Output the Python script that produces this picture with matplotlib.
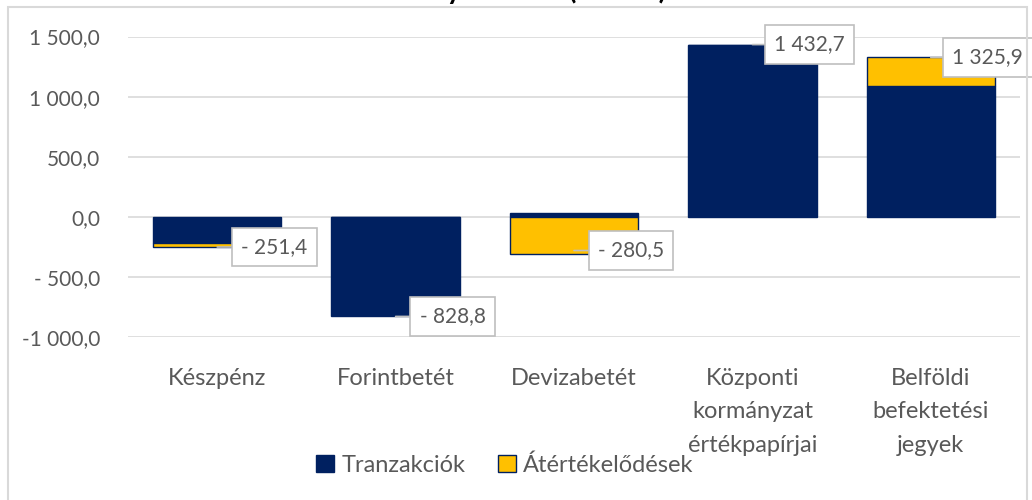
import matplotlib
matplotlib.use('Agg')
import matplotlib.pyplot as plt
from matplotlib.patches import Rectangle

# data (mrd Ft)
categories = ['Készpénz', 'Forintbetét', 'Devizabetét',
              'Központi\nkormányzat\nértékpapírjai', 'Belföldi\nbefektetési\njegyek']
tranzakciok = [-222.0, -828.8, 30.0, 1432.7, 1090.0]
atertekelodesek = [-29.4, 0.0, -310.5, 0.0, 235.9]
totals = [-251.4, -828.8, -280.5, 1432.7, 1325.9]
yticks = [-1000, -500, 0, 500, 1000, 1500]

navy = '#002060'
yellow = '#FFC000'
gray_txt = '#595959'
grid_col = '#d9d9d9'

plt.rcParams['font.family'] = ['Lato', 'DejaVu Sans']


def hu(v):
    # hungarian style: space thousands, comma decimals, "- " for small negatives
    s = '{:,.1f}'.format(abs(v)).replace(',', ' ').replace('.', ',')
    if v < 0:
        return ('- ' if abs(v) < 1000 else '-') + s
    return s


fig = plt.figure(figsize=(10.32, 5.0), dpi=100)
ax = fig.add_axes([128 / 1032, 1 - 337 / 500, 892 / 1032, 300.5 / 500])

x = list(range(len(categories)))
# excel style stacking: positives go up from 0, negatives go down from 0
pos = [0.0] * len(x)
neg = [0.0] * len(x)
for vals, col, ec, lab in [(tranzakciok, navy, navy, 'Tranzakciók'),
                           (atertekelodesek, yellow, navy, 'Átértékelődések')]:
    bottoms = []
    for i, v in enumerate(vals):
        if v >= 0:
            bottoms.append(pos[i])
            pos[i] += v
        else:
            bottoms.append(neg[i])
            neg[i] += v
    ax.bar(x, vals, bottom=bottoms, width=0.72, color=col, edgecolor=ec,
           linewidth=1.0, label=lab, zorder=3)

ax.set_xlim(-0.5, 4.5)
ax.set_ylim(-1000, 1500)
ax.set_yticks(yticks)
ax.set_yticklabels([hu(t) for t in yticks])
ax.yaxis.grid(True, color=grid_col, linewidth=1.2, zorder=0)
ax.tick_params(axis='y', length=0, pad=20, labelsize=15, labelcolor=gray_txt)
ax.set_xticks(x)
ax.set_xticklabels(categories, fontsize=17, color=gray_txt, linespacing=1.75)
ax.tick_params(axis='x', length=0, pad=22)
for sp in ax.spines.values():
    sp.set_visible(False)

# callout labels with the totals
for i, t in enumerate(totals):
    ax.annotate(hu(t), xy=(i, t), xytext=(57, 0), textcoords='offset pixels',
                ha='center', va='center', fontsize=15, color=gray_txt, zorder=5,
                bbox=dict(boxstyle='square,pad=0.45', fc='white', ec='#bfbfbf', lw=1.2),
                arrowprops=dict(arrowstyle='-', color='#bfbfbf', lw=1.2,
                                shrinkA=0, shrinkB=0))

fig.legend(loc='center', bbox_to_anchor=(505 / 1032, 1 - 465 / 500), ncol=2,
           frameon=False, fontsize=17, labelcolor=gray_txt, handlelength=0.75,
           handleheight=0.75, handletextpad=0.3, columnspacing=1.4)

# title sits mostly above the canvas, as in the reference
fig.text(0.49, 1.003, 'Állományváltozás (mrd Ft)', ha='center', va='baseline',
         fontsize=20, fontweight='bold', color='black')

# chart area border
fig.patches.append(Rectangle((8 / 1032, -0.01), 1019 / 1032, 1 - 7 / 500 + 0.01,
                             transform=fig.transFigure, fill=False,
                             edgecolor=grid_col, linewidth=1.5))

fig.savefig('out.png', dpi=100)
